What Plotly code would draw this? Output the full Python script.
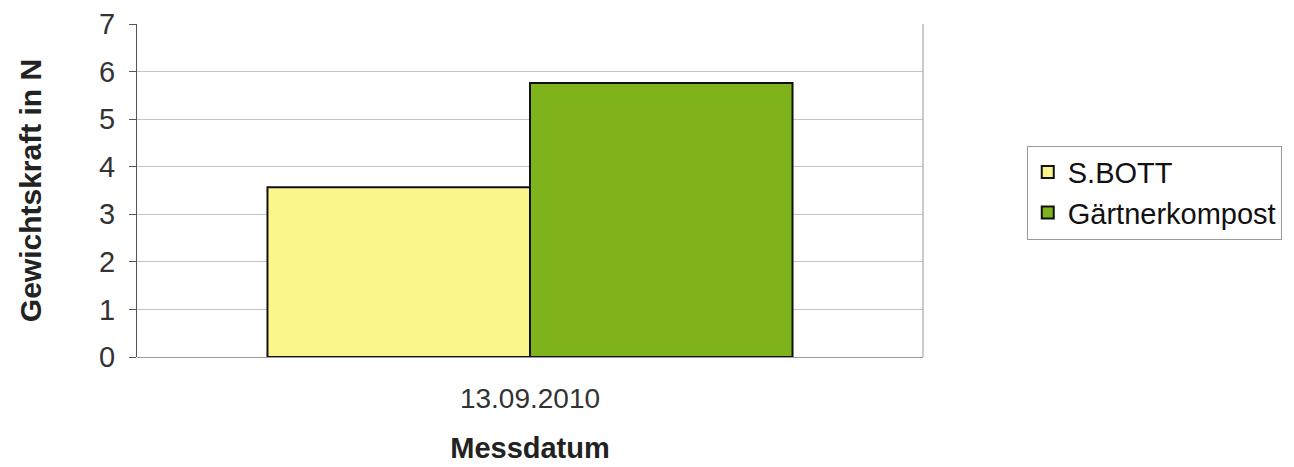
import plotly.graph_objects as go

# Messwerte
messdatum = ["13.09.2010"]
s_bott = [3.57]
gaertnerkompost = [5.76]
y_ticks = [0, 1, 2, 3, 4, 5, 6, 7]

font_family = "Liberation Sans, Arial, sans-serif"

fig = go.Figure()
fig.add_trace(go.Bar(
    name="S.BOTT", x=messdatum, y=s_bott,
    marker=dict(color="#FBF68C", line=dict(color="#111111", width=2)),
    legendgroup="a",
))
fig.add_trace(go.Bar(
    name="Gärtnerkompost", x=messdatum, y=gaertnerkompost,
    marker=dict(color="#7EB31C", line=dict(color="#111111", width=2)),
    legendgroup="b",
))

fig.update_layout(
    width=1294, height=467,
    margin=dict(l=137, r=371, t=24, b=110, autoexpand=False),
    paper_bgcolor="white", plot_bgcolor="white",
    barmode="group", bargap=0.332, bargroupgap=0,
    font=dict(family=font_family, size=29, color="#222222"),
    showlegend=True,
    legend=dict(
        x=1.132, y=0.635, xanchor="left", yanchor="top",
        bordercolor="#9a9a9a", borderwidth=1,
        font=dict(size=29, color="#111111"),
        traceorder="grouped", tracegroupgap=0,
        itemwidth=30,
    ),
    xaxis=dict(
        showgrid=False, showline=False, ticks="",
        tickfont=dict(size=28, color="#333333"),
        ticklabelstandoff=22,
        automargin=False,
        title=dict(text="<b>Messdatum</b>", font=dict(size=29, color="#222222"), standoff=24),
    ),
    yaxis=dict(
        range=[0, 7], tickvals=y_ticks, ticktext=[str(v) for v in y_ticks],
        showgrid=True, gridcolor="#c4c4c4", gridwidth=1,
        showline=True, linecolor="#555555", linewidth=1,
        ticks="outside", ticklen=7, tickcolor="#555555",
        tickfont=dict(size=29, color="#333333"),
        ticklabelstandoff=8,
        automargin=False,
        zeroline=True, zerolinecolor="#9a9a9a", zerolinewidth=1,
        title=dict(text="<b>Gewichtskraft in N</b>", font=dict(size=30, color="#222222"), standoff=48),
    ),
)

# rechter Rand des Diagrammbereichs
fig.add_shape(type="line", xref="paper", yref="paper", x0=1, x1=1, y0=0, y1=1,
              line=dict(color="#9a9a9a", width=1))

fig.write_html("out.html")
